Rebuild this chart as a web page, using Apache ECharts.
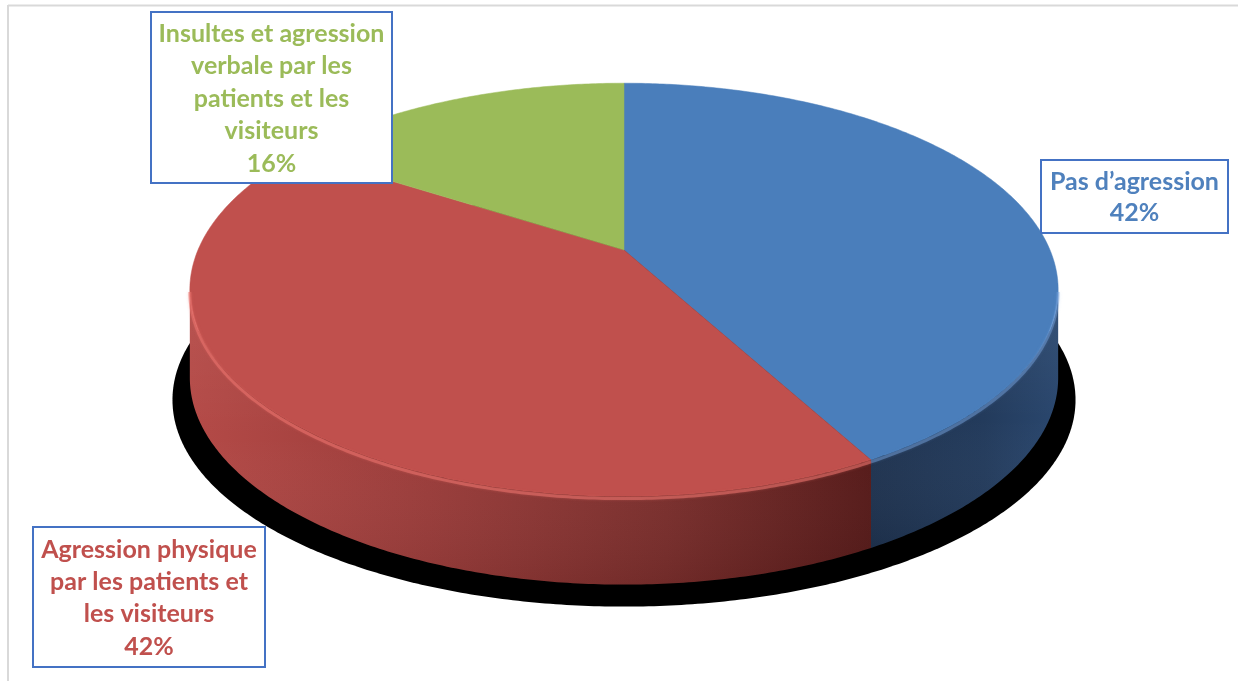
<!DOCTYPE html>
<html>
<head>
<meta charset="utf-8">
<script src="https://cdn.jsdelivr.net/npm/echarts@6/dist/echarts.min.js"></script>
<style>
html,body{margin:0;padding:0;background:#fff;}
#chart{width:1238px;height:681px;}
</style>
</head>
<body>
<div id="chart"></div>
<script>
// ---- data ----
const categories = ['Pas d’agression', 'Agression physique par les patients et les visiteurs', 'Insultes et agression verbale par les patients et les visiteurs'];
const values = [42, 42, 16];
const labelLines = [
  ['Pas d’agression'],
  ['Agression physique', 'par les patients et', 'les visiteurs'],
  ['Insultes et agression', 'verbale par les', 'patients et les', 'visiteurs']
];

// ---- styles ----
const topColors = ['#4a7ebb', '#c0504d', '#9bbb59'];
const textColors = ['#4f81bd', '#c0504d', '#9bbb59'];
const rimColors = ['rgba(120,165,225,0.45)', 'rgba(235,115,110,0.55)', 'rgba(190,215,130,0.5)'];
const sideGradients = [
  [{offset: 0, color: '#1f3350'}, {offset: 0.6, color: '#233b5c'}, {offset: 1, color: '#2a476e'}],
  [{offset: 0, color: '#b44a47'}, {offset: 0.35, color: '#9a3c3a'}, {offset: 0.7, color: '#7a2e2c'}, {offset: 1, color: '#561a19'}],
  [{offset: 0, color: '#6f8a3c'}, {offset: 1, color: '#4e6329'}]
];
// label boxes: [x, y, w, h, lineHeight]
const boxes = [
  [1041, 160, 187, 73, 31],
  [33, 527, 232, 140, 32.3],
  [151, 12, 241, 171, 32.5]
];

// projection of the tilted disc
const CX = 624, CY = 250, U = 426, V = 199, K = 0.193, DEPTH = 88;
function proj(t, dy, sx) {
  const d = 1 + K * Math.cos(t);
  return [CX + (sx || 1) * U * Math.sin(t) / d, CY + (dy || 0) - V * Math.cos(t) / d];
}
function arc(a0, a1, dy, sx) {
  const n = Math.max(4, Math.ceil(Math.abs(a1 - a0) / 0.01));
  const pts = [];
  for (let i = 0; i <= n; i++) pts.push(proj(a0 + (a1 - a0) * i / n, dy, sx));
  return pts;
}
const TR = Math.acos(-K), TL = 2 * Math.PI - TR;

const total = values.reduce((a, b) => a + b, 0);
const starts = [];
let acc = 0;
values.forEach(v => { starts.push(acc); acc += v; });
const sliceData = values.map((v, i) => [v, starts[i], total]);

function angles(api) {
  const v = api.value(0), s = api.value(1), tot = api.value(2);
  return [s / tot * 2 * Math.PI, (s + v) / tot * 2 * Math.PI];
}

const chart = echarts.init(document.getElementById('chart'), null, {renderer: 'canvas'});

const graphics = [
  {type: 'line', shape: {x1: 8, y1: 5.5, x2: 1238, y2: 5.5}, style: {stroke: '#d9d9d9', lineWidth: 2}, z: 100},
  {type: 'line', shape: {x1: 8, y1: 5, x2: 8, y2: 681}, style: {stroke: '#d9d9d9', lineWidth: 2}, z: 100}
];
values.forEach((v, i) => {
  const [x, y, w, h, lh] = boxes[i];
  const pct = Math.round(v / total * 100) + '%';
  graphics.push({
    type: 'rect', z: 100,
    shape: {x: x, y: y, width: w, height: h},
    style: {fill: '#fff', stroke: '#4472c4', lineWidth: 2}
  });
  graphics.push({
    type: 'text', z: 101,
    style: {
      text: labelLines[i].concat([pct]).join('\n'),
      x: x + w / 2, y: y + h / 2 + 1,
      align: 'center', verticalAlign: 'middle',
      fill: textColors[i],
      font: 'bold 25px Lato, "Open Sans", sans-serif',
      lineHeight: lh
    }
  });
});

chart.setOption({
  animation: false,
  backgroundColor: '#fff',
  graphic: graphics,
  series: [
    {
      type: 'custom', coordinateSystem: 'none', silent: true, z: 1,
      data: [[total]],
      renderItem: function () {
        return {type: 'polygon', shape: {points: arc(0, 2 * Math.PI, DEPTH + 22, 1.04)}, style: {fill: '#000'}};
      }
    },
    {
      type: 'custom', coordinateSystem: 'none', silent: true, z: 2,
      data: sliceData,
      renderItem: function (params, api) {
        const [t0, t1] = angles(api);
        const a = Math.max(t0, TR), b = Math.min(t1, TL);
        const children = [];
        if (a < b) {
          const pts = arc(a, b, 0).concat(arc(b, a, DEPTH));
          children.push({
            type: 'polygon', shape: {points: pts},
            style: {fill: new echarts.graphic.LinearGradient(0, 0, 1, 0, sideGradients[params.dataIndex])}
          });
          children.push({
            type: 'polygon', shape: {points: pts},
            style: {fill: new echarts.graphic.LinearGradient(0, 0, 0, 1, [
              {offset: 0, color: 'rgba(255,255,255,0.06)'},
              {offset: 0.5, color: 'rgba(255,255,255,0)'},
              {offset: 1, color: 'rgba(0,0,0,0.08)'}
            ])}
          });
        }
        return {type: 'group', children: children};
      }
    },
    {
      type: 'custom', coordinateSystem: 'none', silent: true, z: 3,
      data: sliceData,
      renderItem: function (params, api) {
        const [t0, t1] = angles(api);
        const i = params.dataIndex;
        const children = [{
          type: 'polygon',
          shape: {points: [[CX, CY]].concat(arc(t0, t1, 0))},
          style: {fill: topColors[i], stroke: topColors[i], lineWidth: 0.5}
        }];
        const a = Math.max(t0, TR), b = Math.min(t1, TL);
        if (a < b) {
          children.push({
            type: 'polyline', shape: {points: arc(a, b, 2)},
            style: {stroke: rimColors[i], lineWidth: 3, fill: null, shadowBlur: 3, shadowColor: rimColors[i]}
          });
        }
        return {type: 'group', children: children};
      }
    }
  ]
});
</script>
</body>
</html>
